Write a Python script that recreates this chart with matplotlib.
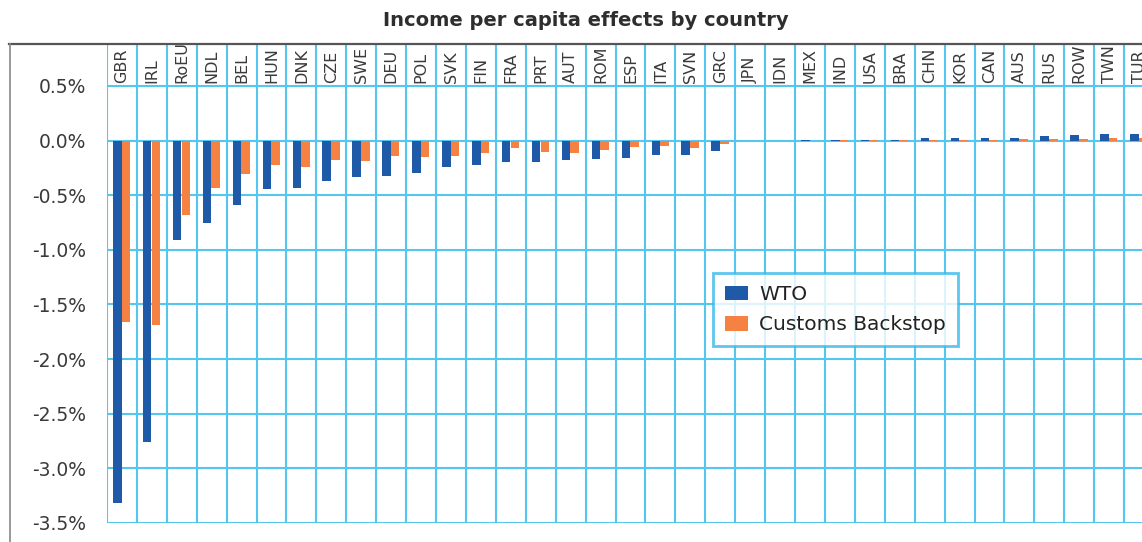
import numpy as np
import matplotlib
matplotlib.use("Agg")
import matplotlib.pyplot as plt
from matplotlib.lines import Line2D

# values in percent
countries = ["GBR", "IRL", "RoEU", "NDL", "BEL", "HUN", "DNK", "CZE", "SWE", "DEU",
             "POL", "SVK", "FIN", "FRA", "PRT", "AUT", "ROM", "ESP", "ITA", "SVN",
             "GRC", "JPN", "IDN", "MEX", "IND", "USA", "BRA", "CHN", "KOR", "CAN",
             "AUS", "RUS", "ROW", "TWN", "TUR"]
wto = [-3.32, -2.76, -0.91, -0.75, -0.59, -0.44, -0.43, -0.37, -0.335, -0.32,
       -0.30, -0.24, -0.22, -0.195, -0.195, -0.18, -0.17, -0.156, -0.135, -0.135,
       -0.092, 0.0, 0.0, 0.005, 0.005, 0.005, 0.005, 0.027, 0.025, 0.025,
       0.025, 0.042, 0.048, 0.058, 0.058]
backstop = [-1.66, -1.69, -0.68, -0.43, -0.305, -0.22, -0.245, -0.18, -0.19, -0.14,
            -0.15, -0.14, -0.11, -0.07, -0.10, -0.11, -0.086, -0.055, -0.047, -0.07,
            -0.034, 0.0, 0.0, 0.0, 0.004, 0.004, 0.004, 0.008, 0.008, 0.008,
            0.015, 0.015, 0.015, 0.025, 0.02]
yticks = [0.5, 0.0, -0.5, -1.0, -1.5, -2.0, -2.5, -3.0, -3.5]

W, H = 1142, 542
BLUE = "#1f5aa8"
ORANGE = "#f58142"
GRID = "#55c6ef"
TXT = "#3a3a3a"

fig = plt.figure(figsize=(W / 100, H / 100), dpi=100)
ax = fig.add_axes([107 / W, 1 - 523 / H, (1154 - 107) / W, (523 - 44) / H])

x = np.arange(len(countries))
ax.bar(x - 0.155, wto, 0.285, color=BLUE, label="WTO", zorder=3)
ax.bar(x + 0.135, backstop, 0.285, color=ORANGE, label="Customs Backstop", zorder=3)

ax.set_xlim(-0.5, len(countries) - 0.5)
ax.set_ylim(-3.5, 0.884)

for yv in yticks:
    ax.axhline(yv, color=GRID, lw=1.5, zorder=1)
for xv in np.arange(-0.5, len(countries), 1.0):
    ax.axvline(xv, color=GRID, lw=1.5, zorder=1)

for s in ax.spines.values():
    s.set_visible(False)
ax.set_xticks([])
ax.set_yticks(yticks)
ax.set_yticklabels([f"{v:.1f}%" for v in yticks], fontsize=13.5, color=TXT)
ax.tick_params(axis="y", length=0, pad=15)

for i, c in enumerate(countries):
    ax.text(i, 0.53, c, rotation=90, ha="center", va="bottom", fontsize=11.5,
            color=TXT, zorder=4, clip_on=True)

fig.text(586 / W, 1 - 21 / H, "Income per capita effects by country", ha="center",
         va="center", fontsize=14, fontweight="bold", color="#2e2e2e")

# outer chart frame (cropped on the right and bottom)
fig.add_artist(Line2D([9 / W, 1], [1 - 43.5 / H, 1 - 43.5 / H], color="#555555", lw=1.6))
fig.add_artist(Line2D([9.5 / W, 9.5 / W], [0, 1 - 43.5 / H], color="#888888", lw=1.2))

leg = ax.legend(loc="upper left", bbox_to_anchor=(713 / W, 1 - 273 / H),
                bbox_transform=fig.transFigure, fontsize=14.5, frameon=True,
                fancybox=False, handlelength=1.15, handleheight=0.75,
                handletextpad=0.55, labelspacing=0.55, borderpad=0.6,
                borderaxespad=0)
leg.get_frame().set_edgecolor("#33b8ea")
leg.get_frame().set_linewidth(2)
for t in leg.get_texts():
    t.set_color("#222222")
leg.set_zorder(5)

fig.savefig("out.png", dpi=100)
